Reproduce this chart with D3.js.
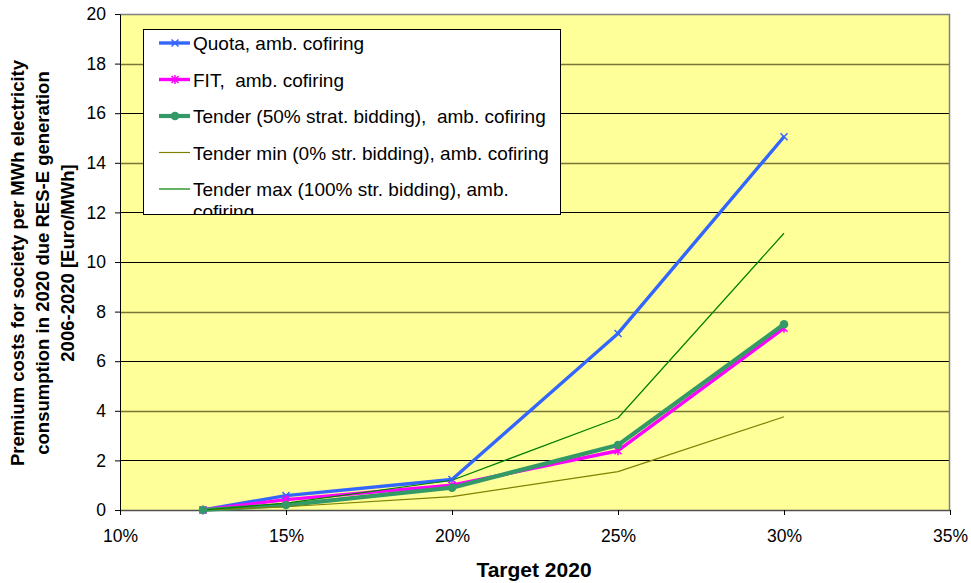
<!DOCTYPE html>
<html>
<head>
<meta charset="utf-8">
<script src="https://cdn.jsdelivr.net/npm/d3@7"></script>
<style>
  body { margin: 0; background: #ffffff; }
  svg { display: block; font-family: "Liberation Sans", Arial, sans-serif; }
  .pre { white-space: pre; }
</style>
</head>
<body>
<svg id="chart" width="971" height="583"></svg>
<script>
// RES-E target levels for 2020 (share of consumption)
const targets = [0.125, 0.15, 0.20, 0.25, 0.30];

// Premium costs per MWh [Euro/MWh] for each support scheme
const quota      = [0.0, 0.58, 1.23, 7.12, 15.05];
const fit        = [0.0, 0.42, 1.00, 2.39, 7.33];
const tender50   = [0.0, 0.20, 0.90, 2.62, 7.49];
const tenderMin  = [0.0, 0.13, 0.54, 1.55, 3.76];
const tenderMax  = [0.0, 0.28, 1.20, 3.71, 11.16];

const seriesNames = [
  "Quota, amb. cofiring",
  "FIT,  amb. cofiring",
  "Tender (50% strat. bidding),  amb. cofiring",
  "Tender min (0% str. bidding), amb. cofiring",
  "Tender max (100% str. bidding), amb. cofiring"
];

const xTicks = [0.10, 0.15, 0.20, 0.25, 0.30, 0.35];
const yTicks = [0, 2, 4, 6, 8, 10, 12, 14, 16, 18, 20];

const series = [
  { name: seriesNames[0], values: quota,     color: "#3366ff", width: 3.4, marker: "x" },
  { name: seriesNames[1], values: fit,       color: "#ff00ff", width: 3.4, marker: "star" },
  { name: seriesNames[2], values: tender50,  color: "#339966", width: 4.2, marker: "circle" },
  { name: seriesNames[3], values: tenderMin, color: "#808000", width: 1.2, marker: null },
  { name: seriesNames[4], values: tenderMax, color: "#008000", width: 1.2, marker: null }
];

const svg = d3.select("#chart");
const plot = { left: 120, top: 14, right: 950, bottom: 510 };

const x = d3.scaleLinear().domain([0.10, 0.35]).range([plot.left, plot.right]);
const y = d3.scaleLinear().domain([0, 20]).range([plot.bottom, plot.top]);

// Plot area background
svg.append("rect")
  .attr("x", plot.left).attr("y", plot.top)
  .attr("width", plot.right - plot.left).attr("height", plot.bottom - plot.top)
  .attr("fill", "#ffff99");

// Horizontal gridlines
const softGrid = [4, 8, 14, 18];
svg.append("g").selectAll("line")
  .data(yTicks.filter(d => d > 0 && d < 20))
  .join("line")
  .attr("x1", plot.left).attr("x2", plot.right)
  .attr("y1", d => Math.round(y(d)) + 0.5).attr("y2", d => Math.round(y(d)) + 0.5)
  .attr("stroke", d => softGrid.includes(d) ? "#77773a" : "#000000")
  .attr("stroke-width", d => softGrid.includes(d) ? 1.6 : 1);

// Top and right plot border
svg.append("path")
  .attr("d", `M${plot.left},${plot.top + 0.5}H${plot.right - 0.5}V${plot.bottom}`)
  .attr("fill", "none").attr("stroke", "#808080").attr("stroke-width", 1.5);

// Axes
const xAxis = d3.axisBottom(x).tickValues(xTicks).tickFormat(d3.format(".0%"))
  .tickSize(5).tickSizeOuter(0);
const gx = svg.append("g").attr("transform", `translate(0,${plot.bottom})`).call(xAxis);
gx.select(".domain").attr("stroke", "#505050").attr("stroke-width", 1.5);
gx.selectAll(".tick line").attr("stroke", "#000");
gx.selectAll(".tick text").attr("font-size", 17.5).attr("fill", "#000")
  .attr("dy", null).attr("y", 31.5)
  .attr("font-family", "'Liberation Sans', Arial, sans-serif");

const yAxis = d3.axisLeft(y).tickValues(yTicks).tickSize(5).tickSizeOuter(0);
const gy = svg.append("g").attr("transform", `translate(${plot.left},0)`).call(yAxis);
gy.select(".domain").attr("stroke", "#000").attr("stroke-width", 1);
gy.selectAll(".tick line").attr("stroke", "#000");
gy.selectAll(".tick text").attr("font-size", 17.5).attr("fill", "#000").attr("x", -14)
  .attr("font-family", "'Liberation Sans', Arial, sans-serif");

// Axis titles
svg.append("text")
  .attr("x", 534).attr("y", 577)
  .attr("text-anchor", "middle").attr("font-size", 21).attr("font-weight", "bold")
  .text("Target 2020");

const yTitle = svg.append("text")
  .attr("transform", "translate(24,263) rotate(-90)")
  .attr("text-anchor", "middle").attr("font-size", 18.5).attr("font-weight", "bold");
["Premium costs for society per MWh electricity",
 "consumption in 2020 due RES-E generation",
 "2006-2020 [Euro/MWh]"].forEach((t, i) => {
  yTitle.append("tspan").attr("x", 0).attr("dy", i === 0 ? 0 : 25).text(t);
});

// Lines
const line = d3.line().x((d, i) => x(targets[i])).y(d => y(d));
const lines = svg.append("g");
series.forEach(s => {
  lines.append("path")
    .attr("d", line(s.values))
    .attr("fill", "none")
    .attr("stroke", s.color)
    .attr("stroke-width", s.width)
    .attr("stroke-linejoin", "round");
});

// Markers
function drawMarker(g, type, cx, cy, color) {
  if (type === "x") {
    const r = 3.5;
    g.append("path")
      .attr("d", `M${cx - r},${cy - r}L${cx + r},${cy + r}M${cx - r},${cy + r}L${cx + r},${cy - r}`)
      .attr("stroke", color).attr("stroke-width", 1.5);
  } else if (type === "star") {
    const r = 3.5;
    g.append("path")
      .attr("d", `M${cx - r},${cy - r}L${cx + r},${cy + r}M${cx - r},${cy + r}L${cx + r},${cy - r}M${cx},${cy - r - 1}L${cx},${cy + r + 1}`)
      .attr("stroke", color).attr("stroke-width", 1.5);
  } else if (type === "circle") {
    g.append("circle").attr("cx", cx).attr("cy", cy).attr("r", 4.3).attr("fill", color);
  }
}
const markers = svg.append("g");
series.forEach(s => {
  if (!s.marker) return;
  s.values.forEach((v, i) => drawMarker(markers, s.marker, x(targets[i]), y(v), s.color));
});

// Legend
const legend = { x: 143, y: 29, w: 417, h: 185 };
svg.append("clipPath").attr("id", "legendClip")
  .append("rect").attr("x", legend.x).attr("y", legend.y).attr("width", legend.w).attr("height", legend.h);
svg.append("rect")
  .attr("x", legend.x + 0.5).attr("y", legend.y + 0.5)
  .attr("width", legend.w).attr("height", legend.h)
  .attr("fill", "#ffffff").attr("stroke", "#000").attr("stroke-width", 1);

const lg = svg.append("g").attr("clip-path", "url(#legendClip)");
const rowY = [43, 79.5, 116, 152.5, 189];
series.forEach((s, i) => {
  const cy = rowY[i];
  lg.append("line")
    .attr("x1", 159).attr("x2", 190).attr("y1", cy).attr("y2", cy)
    .attr("stroke", s.color).attr("stroke-width", s.width);
  if (s.marker) drawMarker(lg, s.marker, 175, cy, s.color);
  const t = lg.append("text").attr("class", "pre").attr("x", 193).attr("y", cy + 7)
    .attr("font-size", 19).attr("fill", "#000");
  if (i === 4) {
    t.append("tspan").attr("x", 193).text("Tender max (100% str. bidding), amb.");
    t.append("tspan").attr("x", 193).attr("dy", 22).text("cofiring");
  } else {
    t.text(s.name);
  }
});
</script>
</body>
</html>
